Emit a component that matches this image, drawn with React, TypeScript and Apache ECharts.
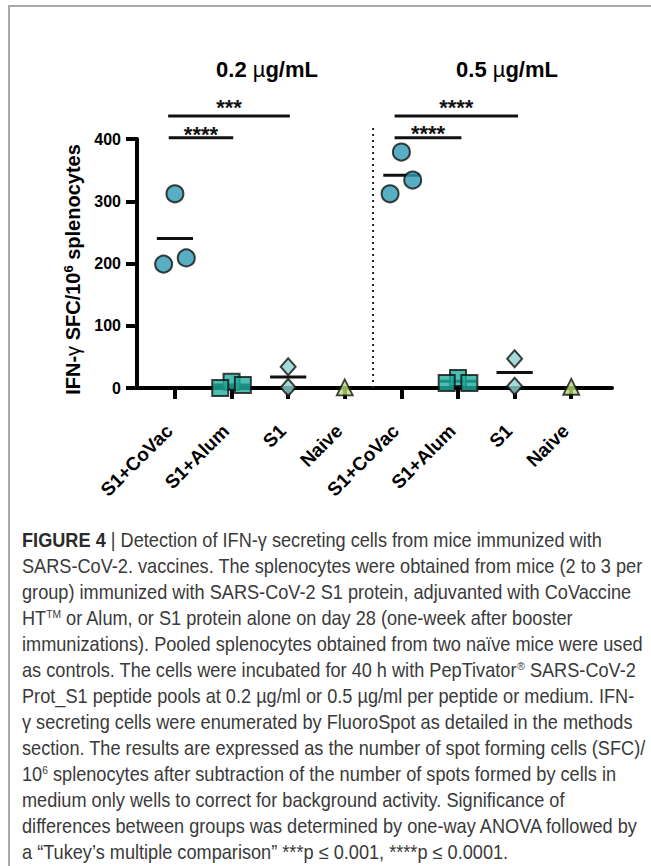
import React, { useEffect, useRef } from 'react';
import * as echarts from 'echarts';

// ---------- data ----------
const categories = ['S1+CoVac', 'S1+Alum', 'S1', 'Naive', 'S1+CoVac', 'S1+Alum', 'S1', 'Naive'];
const tickPositions = [1, 2, 3, 4, 5, 6, 7, 8];
const doseTitles = ['0.2 ', '0.5 '];
const yTicks = [0, 100, 200, 300, 400];

// SFC / 10^6 splenocytes, per mouse
const covac02 = [312, 199, 209];
const alum02 = [10, 0, 5];
const s1_02 = [34, 1];
const naive02 = [1];
const covac05 = [379, 312, 334];
const alum05 = [16, 8, 8];
const s1_05 = [47, 3];
const naive05 = [2];

// horizontal scatter of the points inside a column (category units)
const tripletJitter = [0, -0.2, 0.2];
const pairJitter = [0, 0];
const singleJitter = [0];

// significance brackets: [xStart, xEnd, y]
const sigBars = [
  [0.88, 3.03, 437],
  [0.89, 2.03, 402],
  [4.88, 7.06, 437],
  [4.88, 6.06, 402],
];
const sigLabels = ['***', '****', '****', '****'];
const sigLabelY = [450, 408, 451, 409];

const separatorX = 4.5;
const separatorTop = 418;

const captionLines = [
  '{b|FIGURE 4} | Detection of IFN-γ secreting cells from mice immunized with',
  'SARS-CoV-2. vaccines. The splenocytes were obtained from mice (2 to 3 per',
  'group) immunized with SARS-CoV-2 S1 protein, adjuvanted with CoVaccine',
  'HT{sup|TM} or Alum, or S1 protein alone on day 28 (one-week after booster',
  'immunizations). Pooled splenocytes obtained from two naïve mice were used',
  'as controls. The cells were incubated for 40 h with PepTivator{sup|®} SARS-CoV-2',
  'Prot_S1 peptide pools at 0.2 µg/ml or 0.5 µg/ml per peptide or medium. IFN-',
  'γ secreting cells were enumerated by FluoroSpot as detailed in the methods',
  'section. The results are expressed as the number of spot forming cells (SFC)/',
  '10{sup|6} splenocytes after subtraction of the number of spots formed by cells in',
  'medium only wells to correct for background activity. Significance of',
  'differences between groups was determined by one-way ANOVA followed by',
  'a “Tukey’s multiple comparison” ***p ≤ 0.001, ****p ≤ 0.0001.',
];

// ---------- helpers ----------
const FONT = '"Liberation Sans", Arial, sans-serif';

const toPoints = (vals: number[], jit: number[], pos: number) =>
  vals.map((v, i) => [pos + jit[i], v]);

const mean = (vals: number[]) => vals.reduce((a, b) => a + b, 0) / vals.length;

export default function App() {
  const ref = useRef<HTMLDivElement>(null);

  useEffect(() => {
    if (!ref.current) return;
    const chart = echarts.init(ref.current, null, { renderer: 'svg' });

    const circles = [
      ...toPoints(covac02, tripletJitter, 1),
      ...toPoints(covac05, tripletJitter, 5),
    ];
    const squares = [
      ...toPoints(alum02, tripletJitter, 2),
      ...toPoints(alum05, tripletJitter, 6),
    ];
    const diamonds = [
      ...toPoints(s1_02, pairJitter, 3),
      ...toPoints(s1_05, pairJitter, 7),
    ];
    const triangles = [
      ...toPoints(naive02, singleJitter, 4),
      ...toPoints(naive05, singleJitter, 8),
    ];
    const meanHalf = 0.32;
    const meanGroups: [number[], number][] = [
      [covac02, 1], [alum02, 2], [s1_02, 3],
      [covac05, 5], [alum05, 6], [s1_05, 7],
    ];
    const meanData = meanGroups.map(([vals, pos]) => [pos - meanHalf, pos + meanHalf, mean(vals)]);

    // caption scaling to match the condensed original type
    const capSize = 19.5;
    const ctx = document.createElement('canvas').getContext('2d')!;
    ctx.font = `${capSize}px "Liberation Sans"`;
    const refW = ctx.measureText(captionLines[4]).width;
    const capScale = refW > 0 ? 621 / refW : 1;

    const lineSegment = (color: string, width: number) =>
      (params: any, api: any) => {
        const p1 = api.coord([api.value(0), api.value(2)]);
        const p2 = api.coord([api.value(1), api.value(2)]);
        return {
          type: 'line',
          shape: { x1: p1[0], y1: p1[1], x2: p2[0], y2: p2[1] },
          style: { stroke: color, lineWidth: width },
        };
      };

    const markerBase = {
      type: 'scatter' as const,
      clip: false,
      z: 5,
      itemStyle: { borderColor: '#111', borderWidth: 2 },
      emphasis: { disabled: true },
    };

    const option: any = {
      animation: false,
      backgroundColor: '#ffffff',
      grid: {
        left: 137, right: 39, top: 139, bottom: 478,
        containLabel: false, outerBoundsMode: 'none',
      },
      xAxis: {
        type: 'value',
        min: 0.33,
        max: 8.72,
        splitLine: { show: false },
        axisLine: { show: true, lineStyle: { color: '#000', width: 4 } },
        axisTick: {
          show: true, length: 11, inside: false,
          lineStyle: { color: '#000', width: 4 },
          customValues: tickPositions,
        },
        axisLabel: {
          customValues: tickPositions,
          rotate: 45,
          margin: 34,
          padding: [0, 8, 0, 0],
          color: '#000',
          fontSize: 19,
          fontWeight: 'bold',
          fontFamily: FONT,
          formatter: (v: number) => categories[Math.round(v) - 1] ?? '',
        },
      },
      yAxis: {
        type: 'value',
        min: yTicks[0],
        max: yTicks[yTicks.length - 1],
        interval: 100,
        splitLine: { show: false },
        axisLine: { show: true, lineStyle: { color: '#000', width: 4 } },
        axisTick: { show: true, length: 11, lineStyle: { color: '#000', width: 4 } },
        axisLabel: {
          color: '#000', fontSize: 16, fontWeight: 'bold', fontFamily: FONT, margin: 16,
        },
        name: 'IFN-{g|γ} SFC/10{s|6} splenocytes',
        nameLocation: 'middle',
        nameRotate: 90,
        nameGap: 50,
        nameTextStyle: {
          color: '#000', fontSize: 20, fontWeight: 'bold', fontFamily: FONT,
          padding: [0, 12, 0, 0],
          rich: {
            g: { fontSize: 20, fontWeight: 'normal', fontFamily: FONT, color: '#000' },
            s: { fontSize: 13, fontWeight: 'bold', fontFamily: FONT, color: '#000', verticalAlign: 'top', padding: [0, 0, 10, 0] },
          },
        },
      },
      series: [
        {
          type: 'line',
          clip: false,
          z: 2,
          symbol: 'none',
          data: [[separatorX, 0], [separatorX, separatorTop]],
          lineStyle: { color: '#222', width: 2, type: [2, 4] },
          emphasis: { disabled: true },
        },
        {
          type: 'custom',
          clip: false,
          z: 3,
          renderItem: lineSegment('#111', 3),
          data: meanData,
        },
        {
          type: 'custom',
          clip: false,
          z: 3,
          renderItem: lineSegment('#111', 3),
          data: sigBars,
        },
        {
          type: 'custom',
          clip: false,
          z: 3,
          renderItem: (params: any, api: any) => {
            const i = params.dataIndex;
            const b = sigBars[i];
            const p = api.coord([(b[0] + b[1]) / 2, sigLabelY[i]]);
            return {
              type: 'text',
              x: p[0],
              y: p[1],
              style: {
                text: sigLabels[i],
                fontSize: 22,
                fontWeight: 'bold',
                fontFamily: FONT,
                fill: '#111',
                align: 'center',
                verticalAlign: 'middle',
              },
            };
          },
          data: sigLabels.map((_, i) => [i]),
        },
        { ...markerBase, symbol: 'circle', symbolSize: 17, data: circles, itemStyle: { ...markerBase.itemStyle, color: '#2E9AB4' } },
        { ...markerBase, symbol: 'rect', symbolSize: 16, data: squares, itemStyle: { ...markerBase.itemStyle, color: '#1FAE9F' } },
        { ...markerBase, symbol: 'diamond', symbolSize: [15, 17], data: diamonds, itemStyle: { ...markerBase.itemStyle, color: '#8ED2D0' } },
        { ...markerBase, symbol: 'triangle', symbolSize: [16, 16], data: triangles, itemStyle: { ...markerBase.itemStyle, color: '#B8DC7A', borderWidth: 1.8 } },
      ],
      graphic: [
        { type: 'line', silent: true, shape: { x1: 8, y1: 6, x2: 651, y2: 6 }, style: { stroke: '#aaaaaa', lineWidth: 2 } },
        { type: 'line', silent: true, shape: { x1: 9, y1: 6, x2: 9, y2: 866 }, style: { stroke: '#aaaaaa', lineWidth: 2 } },
        ...doseTitles.map((t, i) => ({
          type: 'text',
          silent: true,
          x: i === 0 ? 267 : 507,
          y: 69,
          style: {
            text: `{n|${t}}{m|µ}{n|g/mL}`,
            align: 'center',
            verticalAlign: 'middle',
            rich: {
              n: { fontSize: 22, fontWeight: 'bold', fontFamily: FONT, fill: '#000' },
              m: { fontSize: 22, fontWeight: 'normal', fontFamily: FONT, fill: '#000' },
            },
          },
        })),
        ...captionLines.map((line, i) => ({
          type: 'text',
          silent: true,
          x: 22,
          y: 540 + i * 26,
          scaleX: capScale,
          style: {
            text: line,
            fontSize: capSize,
            fontFamily: FONT,
            fill: '#3a3a3a',
            verticalAlign: 'middle',
            rich: {
              b: { fontSize: capSize, fontWeight: 'bold', fontFamily: FONT, fill: '#2a2a2a' },
              sup: { fontSize: 11, fontFamily: FONT, fill: '#3a3a3a', verticalAlign: 'top', padding: [0, 0, 8, 0] },
            },
          },
        })),
      ],
    };

    chart.setOption(option);
    return () => chart.dispose();
  }, []);

  return (
    <div
      ref={ref}
      style={{ position: 'absolute', left: 0, top: 0, width: 651, height: 866, background: '#fff' }}
    />
  );
}
